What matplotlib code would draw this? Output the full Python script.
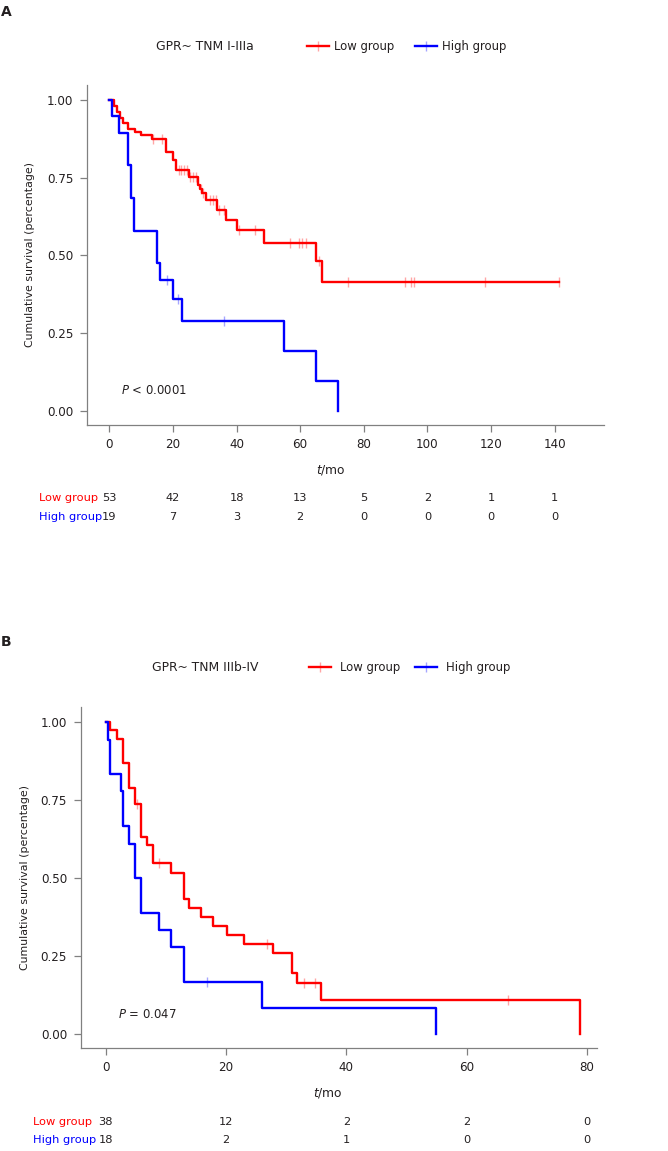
import numpy as np
import matplotlib
matplotlib.use("Agg")
import matplotlib.pyplot as plt
from matplotlib.lines import Line2D
from matplotlib.transforms import blended_transform_factory

# ---- data ----
# panel A: GPR ~ TNM I-IIIa
red_a_time = [0, 1.6, 2.5, 3.4, 4.2, 5.8, 8.0, 10.0, 13.3, 17.9, 19.9, 21.0, 25.1, 27.8, 28.5,
              29.2, 30.4, 33.8, 36.7, 40.0, 48.7, 65.0, 66.9, 141.2]
red_a_surv = [1.0, 0.981, 0.962, 0.943, 0.925, 0.906, 0.896, 0.887, 0.874, 0.834, 0.808, 0.775,
              0.751, 0.727, 0.712, 0.700, 0.678, 0.646, 0.614, 0.582, 0.541, 0.481, 0.414, 0.414]
red_a_cens = [13.8, 16.5, 21.8, 22.5, 23.4, 24.4, 25.5, 26.3, 27.2, 28.9, 29.6, 31.6, 32.5, 33.4,
              34.4, 36.2, 40.7, 45.8, 56.8, 59.7, 60.6, 61.8, 65.9, 75.1, 93.1, 94.8, 95.8,
              118.0, 141.2]
blue_a_time = [0, 1.0, 3.0, 5.8, 6.8, 7.9, 15.0, 16.0, 20.1, 22.8, 54.8, 65.0, 72.0]
blue_a_surv = [1.0, 0.947, 0.895, 0.789, 0.684, 0.579, 0.474, 0.421, 0.361, 0.289, 0.193,
               0.096, 0.0]
blue_a_cens = [18.0, 21.7, 36.0]
risk_a_times = [0, 20, 40, 60, 80, 100, 120, 140]
risk_a_low = [53, 42, 18, 13, 5, 2, 1, 1]
risk_a_high = [19, 7, 3, 2, 0, 0, 0, 0]

# panel B: GPR ~ TNM IIIb-IV
red_b_time = [0, 0.8, 1.9, 2.8, 3.9, 4.9, 5.9, 6.9, 7.8, 10.9, 13.0, 13.9, 15.9, 17.9, 20.1,
              23.0, 27.9, 31.0, 31.8, 35.8, 78.8]
red_b_surv = [1.0, 0.974, 0.947, 0.868, 0.789, 0.737, 0.632, 0.605, 0.549, 0.518, 0.434, 0.405,
              0.376, 0.347, 0.318, 0.289, 0.260, 0.195, 0.163, 0.109, 0.0]
red_b_cens = [5.2, 8.8, 26.9, 32.9, 34.8, 66.9]
blue_b_time = [0, 0.4, 0.8, 2.5, 2.8, 3.9, 4.9, 5.9, 8.9, 10.9, 13.0, 26.0, 55.0]
blue_b_surv = [1.0, 0.944, 0.833, 0.778, 0.667, 0.611, 0.5, 0.389, 0.333, 0.278, 0.167,
               0.083, 0.0]
blue_b_cens = [16.9]
risk_b_times = [0, 20, 40, 60, 80]
risk_b_low = [38, 12, 2, 2, 0]
risk_b_high = [18, 2, 1, 0, 0]

RED = "#ff0000"
BLUE = "#0000ff"
TXT = "#231f20"
GREY = "#808080"
FS = 8.2

plt.rcParams['font.family'] = ['DejaVu Sans']
plt.rcParams['mathtext.fontset'] = 'dejavusans'

W, H = 668, 1151
fig = plt.figure(figsize=(W / 100, H / 100), dpi=100)


def fx(px):
    return px / W


def fy(py):
    return 1 - py / H


def level(times, surv, t):
    i = np.searchsorted(times, t, side='right') - 1
    return surv[i]


def panel(box, xlim, xticks, curves, letter, letter_y, title, title_x, leg_x, head_y, textpad,
          colspace, ptext, p_xy, ylab_x, xlab_xy, row_y, lab_x, risk_times, risk_rows):
    l, t, r, b = box
    ax = fig.add_axes([fx(l), fy(b), (r - l) / W, (b - t) / H])
    for times, surv, cens, col in curves:
        ax.step(times, surv, where='post', color=col, lw=1.7)
        ax.plot(cens, [level(times, surv, c) for c in cens], ls='none', marker='|',
                ms=7, mew=1, color=col, alpha=0.35)
    ax.set_xlim(*xlim)
    ax.set_ylim(-0.046, 1.048)
    ax.set_xticks(xticks)
    ax.set_yticks([0, 0.25, 0.5, 0.75, 1.0])
    ax.set_yticklabels(["0.00", "0.25", "0.50", "0.75", "1.00"])
    for s in ['top', 'right']:
        ax.spines[s].set_visible(False)
    for s in ['left', 'bottom']:
        ax.spines[s].set_color(GREY)
        ax.spines[s].set_linewidth(0.9)
    ax.tick_params(length=5, width=0.9, color=GREY, labelcolor=TXT, labelsize=8.6)
    ax.tick_params(axis='x', pad=4.5)
    ax.tick_params(axis='y', pad=5)

    ax.set_ylabel("Cumulative survival (percentage)", fontsize=7.9, color=TXT)
    ax.yaxis.label.set_va('center')
    ax.yaxis.set_label_coords(fx(ylab_x), fy((t + b) / 2), transform=fig.transFigure)
    ax.set_xlabel("$t$/mo", fontsize=8.8, color=TXT)
    ax.xaxis.label.set_va('center')
    ax.xaxis.set_label_coords(fx(xlab_xy[0]), fy(xlab_xy[1]), transform=fig.transFigure)

    fig.text(fx(p_xy[0]), fy(p_xy[1]), ptext, fontsize=8.4, color=TXT, ha='left', va='center')
    fig.text(fx(1), fy(letter_y), letter, fontsize=10, fontweight='bold', color=TXT,
             ha='left', va='center')
    fig.text(fx(title_x), fy(head_y), title, fontsize=8.9, color=TXT, ha='left', va='center')

    handles = []
    for col in [RED, BLUE]:
        handles.append((Line2D([], [], color=col, lw=1.7),
                        Line2D([], [], ls='none', marker='|', ms=7, mew=1, color=col,
                               alpha=0.35)))
    ax.legend(handles, ["Low group", "High group"], loc='center left',
              bbox_to_anchor=(fx(leg_x), fy(head_y)), bbox_transform=fig.transFigure,
              ncol=2, frameon=False, fontsize=8.4, labelcolor=TXT, handlelength=1.9,
              handletextpad=textpad, columnspacing=colspace, borderpad=0, borderaxespad=0)

    tr = blended_transform_factory(ax.transData, fig.transFigure)
    for (name, col, vals), yy in zip(risk_rows, row_y):
        fig.text(fx(lab_x), fy(yy), name, fontsize=FS, color=col, ha='left', va='center')
        for tt, n in zip(risk_times, vals):
            ax.text(tt, fy(yy), str(n), transform=tr, fontsize=FS, color=TXT,
                    ha='center', va='center')
    return ax


panel(box=(87.3, 85, 604, 425), xlim=(-6.9, 155.5), xticks=list(range(0, 141, 20)),
      curves=[(red_a_time, red_a_surv, red_a_cens, RED),
              (blue_a_time, blue_a_surv, blue_a_cens, BLUE)],
      letter="A", letter_y=12, title="GPR~ TNM I-IIIa", title_x=156, leg_x=307, head_y=46.5,
      textpad=0.45, colspace=1.7, ptext="$P$ < 0.0001", p_xy=(120.7, 390.7), ylab_x=30,
      xlab_xy=(330.7, 470), row_y=(498, 516.7), lab_x=39, risk_times=risk_a_times,
      risk_rows=[("Low group", RED, risk_a_low), ("High group", BLUE, risk_a_high)])

panel(box=(81, 707.3, 597.4, 1048.3), xlim=(-4.1, 81.75), xticks=[0, 20, 40, 60, 80],
      curves=[(red_b_time, red_b_surv, red_b_cens, RED),
              (blue_b_time, blue_b_surv, blue_b_cens, BLUE)],
      letter="B", letter_y=641.7, title="GPR~ TNM IIIb-IV", title_x=152, leg_x=309,
      head_y=667.3, textpad=0.8, colspace=1.2, ptext="$P$ = 0.047", p_xy=(118, 1015),
      ylab_x=25, xlab_xy=(327.6, 1092.7), row_y=(1121.7, 1140), lab_x=32.7,
      risk_times=risk_b_times,
      risk_rows=[("Low group", RED, risk_b_low), ("High group", BLUE, risk_b_high)])

fig.savefig("out.png", dpi=100)
